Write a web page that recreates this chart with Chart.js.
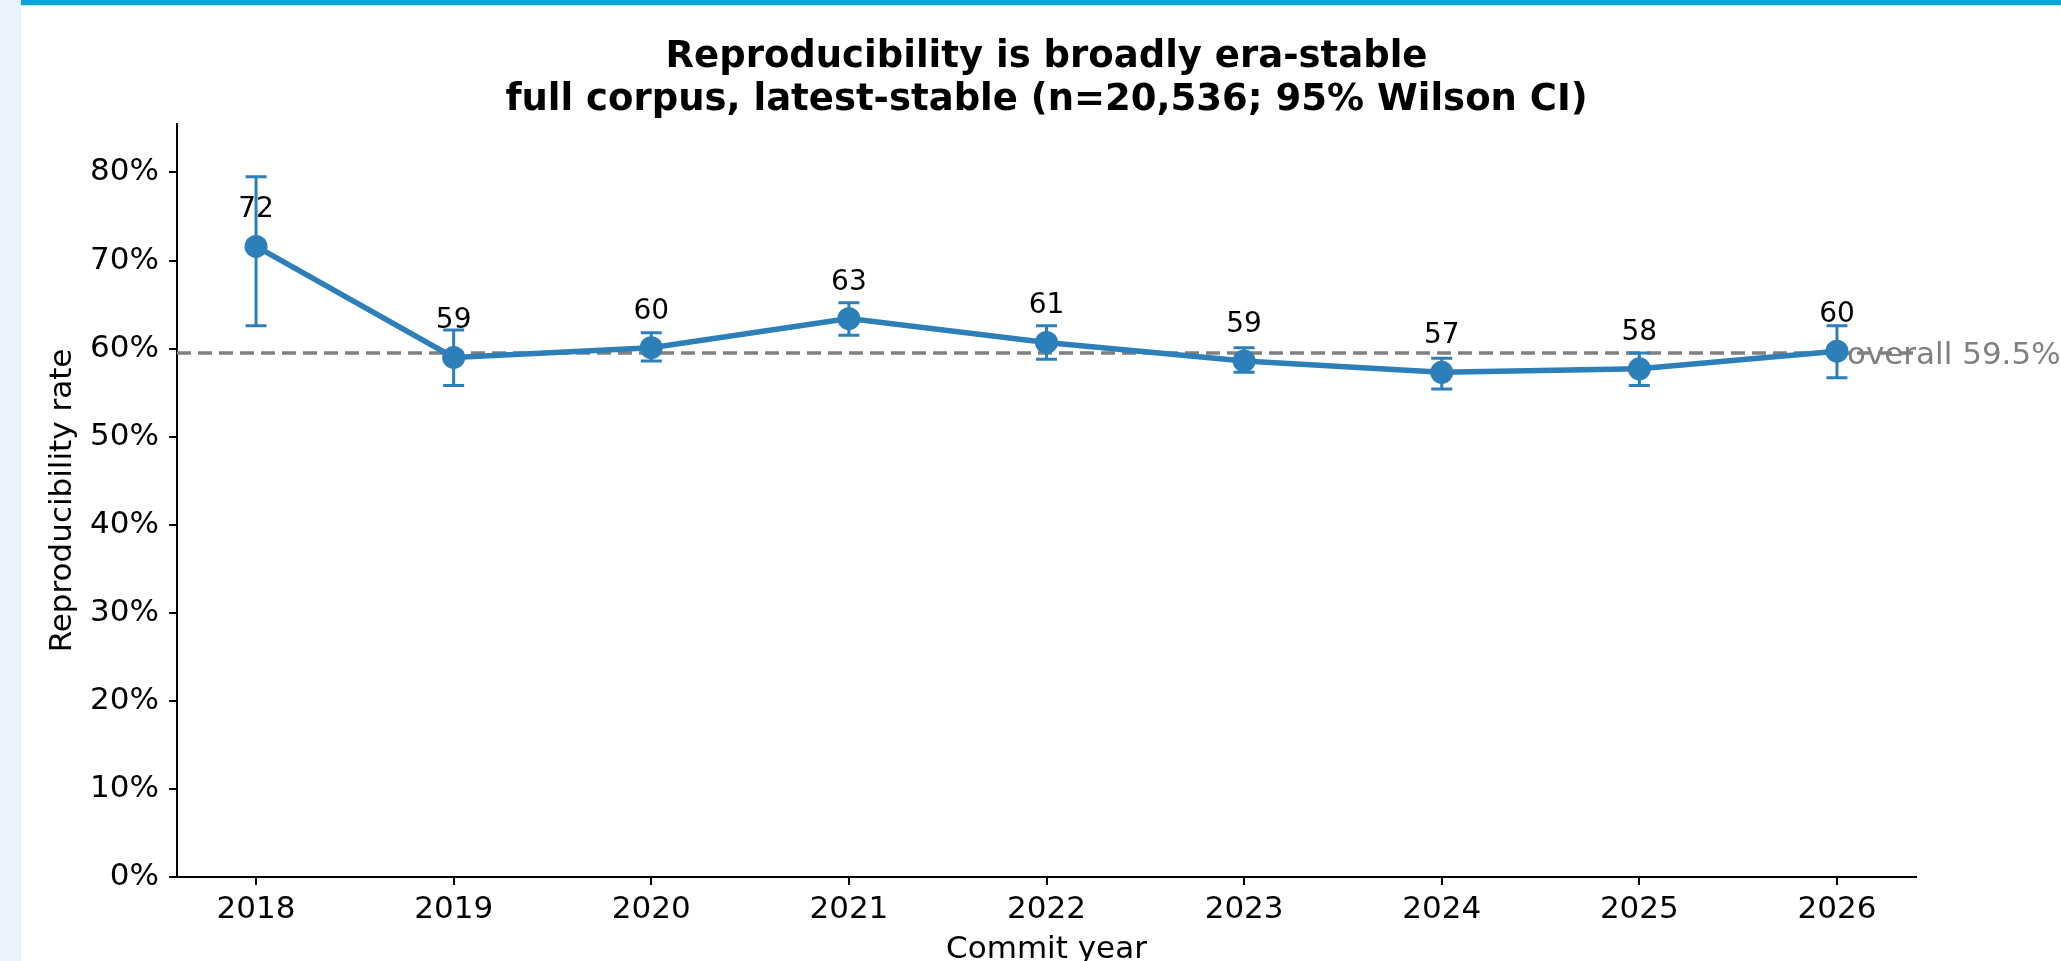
<!DOCTYPE html>
<html>
<head>
<meta charset="utf-8">
<title>Reproducibility by commit year</title>
<script src="https://cdn.jsdelivr.net/npm/chart.js@4.4.1/dist/chart.umd.min.js"></script>
<style>
  html, body { margin: 0; padding: 0; background: #fff; overflow: hidden; }
  .side { position: absolute; left: 0; top: 0; width: 21px; height: 961px; background: #eaf2fb; }
  .topbar { position: absolute; left: 21px; top: 0; right: 0; height: 5px; background: #0ba6d7; box-shadow: 0 1px 2px rgba(11,166,215,0.35); }
  #chartWrap { position: absolute; left: 0; top: 0; width: 2061px; height: 961px; }
</style>
</head>
<body>
<div class="side"></div>
<div class="topbar"></div>
<div id="chartWrap"><canvas id="reproChart" width="2061" height="961"></canvas></div>
<script>
const YEARS = [2018, 2019, 2020, 2021, 2022, 2023, 2024, 2025, 2026];
const RATES = [71.6, 59.0, 60.1, 63.4, 60.7, 58.6, 57.3, 57.7, 59.7];
const CI_LOW = [62.6, 55.8, 58.6, 61.5, 58.8, 57.3, 55.4, 55.8, 56.7];
const CI_HIGH = [79.5, 62.1, 61.8, 65.2, 62.6, 60.1, 58.9, 59.5, 62.6];
const RATE_LABELS = ['72', '59', '60', '63', '61', '59', '57', '58', '60'];
const OVERALL_RATE = 59.5;
const Y_TICKS = [0, 10, 20, 30, 40, 50, 60, 70, 80];
const TITLE_LINES = ['Reproducibility is broadly era-stable', 'full corpus, latest-stable (n=20,536; 95% Wilson CI)'];

const FONT = "'DejaVu Sans', 'Liberation Sans', sans-serif";
const BLUE = '#2c7fb8';
const GREY = '#808080';

function buildReproChart() {
  const ctx = document.getElementById('reproChart');
  if (!ctx) return;

  const axisTicks = {
    drawOnChartArea: false,
    drawTicks: true,
    tickLength: 8,
    tickWidth: 2,
    tickColor: '#000',
    color: '#000',
    lineWidth: 2
  };

  return new Chart(ctx, {
    type: 'line',
    data: {
      datasets: [{
        data: YEARS.map((yr, i) => ({ x: yr, y: RATES[i] })),
        borderColor: BLUE,
        backgroundColor: BLUE,
        borderWidth: 5.5,
        pointRadius: 11.5,
        pointHoverRadius: 11.5,
        pointBorderWidth: 0,
        pointBackgroundColor: BLUE,
        tension: 0,
        clip: false
      }]
    },
    options: {
      responsive: false,
      devicePixelRatio: 1,
      animation: false,
      events: [],
      layout: { padding: { left: 0, top: 124, right: 145, bottom: 0 } },
      plugins: {
        legend: { display: false },
        tooltip: { enabled: false },
        title: { display: false }
      },
      scales: {
        x: {
          type: 'linear',
          min: 2017.6,
          max: 2026.4,
          afterBuildTicks: (s) => { s.ticks = YEARS.map(v => ({ value: v })); },
          afterFit: (s) => { s.height = 84; },
          ticks: {
            color: '#000',
            font: { family: FONT, size: 31 },
            padding: 6,
            maxRotation: 0,
            autoSkip: false,
            callback: (v) => String(v)
          },
          grid: axisTicks,
          border: { display: true, color: '#000', width: 2 }
        },
        y: {
          min: 0,
          max: 85.5,
          afterBuildTicks: (s) => { s.ticks = Y_TICKS.map(v => ({ value: v })); },
          afterFit: (s) => { s.width = 177; },
          ticks: {
            color: '#000',
            font: { family: FONT, size: 31 },
            padding: 10,
            callback: (v) => v + '%'
          },
          grid: axisTicks,
          border: { display: true, color: '#000', width: 2 }
        }
      }
    },
    plugins: [{
      id: 'wilsonErrorBars',
      beforeDatasetsDraw(chart) {
        const { ctx: c, chartArea: area, scales: { x, y } } = chart;
        const yRef = y.getPixelForValue(OVERALL_RATE);
        c.save();
        c.strokeStyle = GREY;
        c.lineWidth = 3.5;
        c.setLineDash([14, 7]);
        c.beginPath();
        c.moveTo(area.left, yRef);
        c.lineTo(area.right, yRef);
        c.stroke();
        c.setLineDash([]);
        c.strokeStyle = BLUE;
        c.lineWidth = 3;
        YEARS.forEach((yr, i) => {
          const px = x.getPixelForValue(yr);
          const top = y.getPixelForValue(CI_HIGH[i]);
          const bot = y.getPixelForValue(CI_LOW[i]);
          c.beginPath();
          c.moveTo(px, top); c.lineTo(px, bot);
          c.moveTo(px - 10.5, top); c.lineTo(px + 10.5, top);
          c.moveTo(px - 10.5, bot); c.lineTo(px + 10.5, bot);
          c.stroke();
        });
        c.restore();
      },
      afterDraw(chart) {
        const { ctx: c, chartArea: area, scales: { x, y } } = chart;
        const midX = (area.left + area.right) / 2;
        c.save();
        c.textAlign = 'center';
        c.textBaseline = 'alphabetic';

        // rounded rate above each point
        c.fillStyle = '#000';
        c.font = `28px ${FONT}`;
        YEARS.forEach((yr, i) => {
          c.fillText(RATE_LABELS[i], x.getPixelForValue(yr), y.getPixelForValue(RATES[i]) - 29);
        });

        // overall reference label
        c.textAlign = 'left';
        c.fillStyle = GREY;
        c.font = `31px ${FONT}`;
        c.fillText(`overall ${OVERALL_RATE.toFixed(1)}%`, x.getPixelForValue(YEARS[YEARS.length - 1]) + 10, y.getPixelForValue(OVERALL_RATE) + 11);

        // titles
        c.textAlign = 'center';
        c.fillStyle = '#000';
        c.font = `bold 37px ${FONT}`;
        c.fillText(TITLE_LINES[0], midX, 67);
        c.fillText(TITLE_LINES[1], midX, 110);

        c.font = `31px ${FONT}`;
        c.fillText('Commit year', midX, 958);

        c.translate(71, (area.top + area.bottom) / 2);
        c.rotate(-Math.PI / 2);
        c.fillText('Reproducibility rate', 0, 0);
        c.restore();
      }
    }]
  });
}

buildReproChart();
</script>
</body>
</html>
